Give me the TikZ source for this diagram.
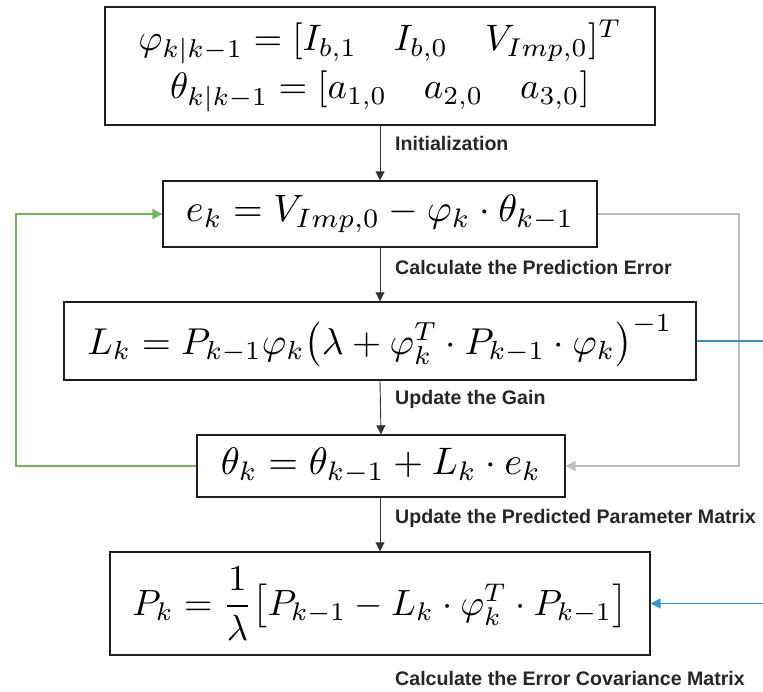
\documentclass[tikz,border=0pt]{standalone}
\usepackage{fontspec}
\usepackage{graphicx}
\usepackage{amsmath}
\setmainfont{Liberation Sans}
\usetikzlibrary{arrows.meta,positioning}
\definecolor{fbgreen}{RGB}{112,184,84}
\definecolor{fbgray}{RGB}{190,190,190}
\definecolor{fbblue}{RGB}{40,150,220}
\definecolor{boxline}{RGB}{30,30,30}
\tikzset{
  eqbox/.style={draw=boxline, line width=1.4pt, inner sep=0pt, fill=white},
  lbl/.style={anchor=west, inner sep=0pt, font=\fontsize{19.6}{22}\selectfont\bfseries, text=black!85},
  flow/.style={draw=black!80, line width=0.9pt, -{Triangle[length=9pt,width=9pt]}},
  grayloop/.style={draw=fbgray, line width=2pt, -{Triangle[length=10pt,width=10pt]}},
  greenloop/.style={draw=fbgreen, line width=2pt, -{Triangle[length=10pt,width=10pt]}},
  blueline/.style={draw=fbblue, line width=1.6pt},
  bluearrow/.style={draw=fbblue, line width=1.6pt, -{Triangle[length=10pt,width=10pt]}}
}
\begin{document}
\begin{tikzpicture}[x=1pt,y=-1pt]
\useasboundingbox (0,0) rectangle (763,691);
% boxes
\node[eqbox, minimum width=550pt, minimum height=118pt] (b1) at (380,66)
  {\resizebox{520pt}{!}{$\begin{array}{c}
    \varphi_{k|k-1} = [I_{b,1}\quad I_{b,0}\quad V_{Imp,0}]^T\\[1pt]
    \theta_{k|k-1} = [a_{1,0}\quad a_{2,0}\quad a_{3,0}]
  \end{array}$}};
\node[eqbox, minimum width=434pt, minimum height=66pt] (b2) at (380,214)
  {\resizebox{388pt}{!}{$e_k = V_{Imp,0} - \varphi_k\cdot\theta_{k-1}$}};
\node[eqbox, minimum width=632pt, minimum height=78pt] (b3) at (380,341)
  {\resizebox{585pt}{!}{$L_k = P_{k-1}\varphi_k\bigl(\lambda + \varphi_k^T\cdot P_{k-1}\cdot\varphi_k\bigr)^{-1}$}};
\node[eqbox, minimum width=368pt, minimum height=62pt] (b4) at (381,466)
  {\resizebox{320pt}{!}{$\theta_k = \theta_{k-1} + L_k\cdot e_k$}};
\node[eqbox, minimum width=540pt, minimum height=103pt] (b5) at (380,603.5)
  {\resizebox{495pt}{!}{$P_k = \dfrac{1}{\lambda}\bigl[P_{k-1} - L_k\cdot\varphi_k^T\cdot P_{k-1}\bigr]$}};
% labels
\node[lbl] (l1) at (395,143) {Initialization};
\node[lbl] (l2) at (395,267) {Calculate the Prediction Error};
\node[lbl] (l3) at (395,399) {Update the Gain};
\node[lbl] (l4) at (395,518) {Update the Predicted Parameter Matrix};
\node[lbl] (l5) at (395,678) {Calculate the Error Covariance Matrix};
% main flow
\draw[flow] (b1.south) -- (b2.north);
\draw[flow] (b2.south) -- (b3.north);
\draw[flow] (b3.south) -- (b4.north);
\draw[flow] ([xshift=-1pt]b4.south) -- (b5.north);
% loops
\coordinate (gr) at (739,214);
\draw[grayloop] (b2.east) -- (gr) |- (b4.east);
\coordinate (gl) at (16,466);
\draw[greenloop] (b4.west) -- (gl) |- (b2.west);
\coordinate (bl1) at (763,341);
\draw[blueline] (b3.east) -- (bl1);
\coordinate (bl2) at (763,603.5);
\draw[bluearrow] (bl2) -- (b5.east);
\end{tikzpicture}
\end{document}
